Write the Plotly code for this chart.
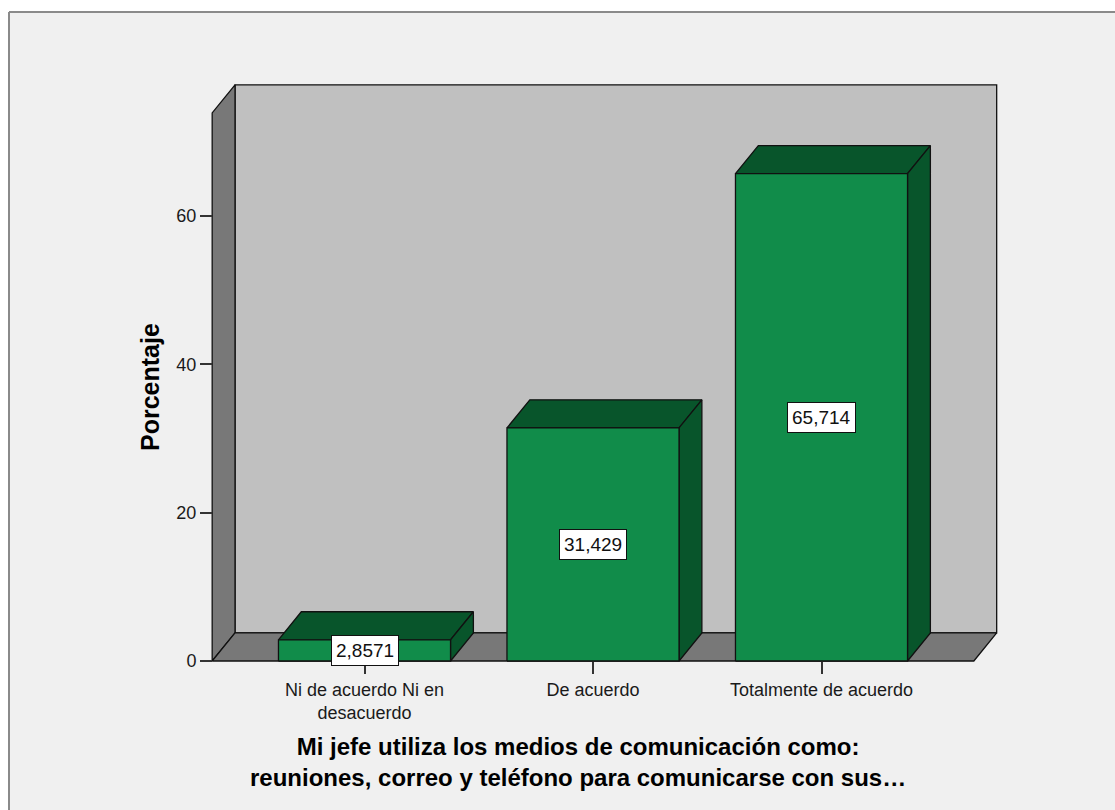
import plotly.graph_objects as go

# ---------------- data ----------------
categories = ["Ni de acuerdo Ni en<br>desacuerdo", "De acuerdo", "Totalmente de acuerdo"]
values = [2.8571, 31.429, 65.714]
value_labels = ["2,8571", "31,429", "65,714"]
y_ticks = [0, 20, 40, 60]
y_tick_labels = ["0", "20", "40", "60"]
y_title = "Porcentaje"
x_title_lines = ["Mi jefe utiliza los medios de comunicación como:",
                 "reuniones, correo y teléfono para comunicarse con sus…"]

# ---------------- style / geometry ----------------
W, H = 1115, 810
ML, MR, MT, MB = 190, 95, 70, 110
PW, PH = W - ML - MR, H - MT - MB
CAT_PX = 228.5          # px per category
CAT0_PX = 364.5         # px of first category centre
Y0_PX = 661             # px of value 0 (front)
PX_PER_UNIT = 7.417     # px per percent
BAR_W = 0.753
DX = 0.1                # depth offset in category units
DY = 3.78               # depth offset in percent units
FX0, FX1 = -2 / 3, 8 / 3
WALL_H = 73.9

FRONT = "#118c4a"
DARK = "#08552b"
BACK_WALL = "#c0c0c0"
SIDE_WALL = "#787878"
FRAME_BG = "#f0f0f0"
FONT = "Liberation Sans, Arial, sans-serif"

x_range = [(ML - CAT0_PX) / CAT_PX, (W - MR - CAT0_PX) / CAT_PX]
y_range = [(Y0_PX - (H - MB)) / PX_PER_UNIT, (Y0_PX - MT) / PX_PER_UNIT]


def px_to_paper_x(px):
    return (px - ML) / PW


def px_to_paper_y(py):
    return (H - MB - py) / PH


fig = go.Figure()


def poly(xs, ys, color):
    fig.add_trace(go.Scatter(
        x=list(xs) + [xs[0]], y=list(ys) + [ys[0]],
        mode="lines", fill="toself", fillcolor=color,
        line=dict(color="#111111", width=1.3),
        hoverinfo="skip", showlegend=False))


# walls and floor
poly([FX0 + DX, FX1 + DX, FX1 + DX, FX0 + DX], [DY, DY, WALL_H + DY, WALL_H + DY], BACK_WALL)
poly([FX0, FX0 + DX, FX0 + DX, FX0], [0, DY, WALL_H + DY, WALL_H], SIDE_WALL)
poly([FX0, FX1, FX1 + DX, FX0 + DX], [0, 0, DY, DY], SIDE_WALL)

# bars
for i, v in enumerate(values):
    x0, x1 = i - BAR_W / 2, i + BAR_W / 2
    poly([x0, x1, x1 + DX, x0 + DX], [v, v, v + DY, v + DY], DARK)
    poly([x1, x1 + DX, x1 + DX, x1], [0, DY, v + DY, v], DARK)
    poly([x0, x1, x1, x0], [0, 0, v, v], FRONT)

annotations = []
for i, (v, lab) in enumerate(zip(values, value_labels)):
    annotations.append(dict(
        x=i, y=v / 2, xref="x", yref="y", text=lab, showarrow=False,
        font=dict(family=FONT, size=19, color="#111111"),
        bgcolor="white", bordercolor="#111111", borderwidth=1, borderpad=4))

annotations.append(dict(
    x=px_to_paper_x(150), y=px_to_paper_y(387), xref="paper", yref="paper",
    text="<b>" + y_title + "</b>", textangle=-90, showarrow=False,
    font=dict(family=FONT, size=25, color="#000000"),
    xanchor="center", yanchor="middle"))

annotations.append(dict(
    x=px_to_paper_x(578), y=px_to_paper_y(762), xref="paper", yref="paper",
    text="<br>".join("<b>" + line + "</b>" for line in x_title_lines),
    showarrow=False, align="center",
    font=dict(family=FONT, size=24, color="#000000"),
    xanchor="center", yanchor="middle"))

frame_left, frame_top = px_to_paper_x(9), px_to_paper_y(12)
fig.update_layout(
    width=W, height=H,
    margin=dict(l=ML, r=MR, t=MT, b=MB, pad=0),
    paper_bgcolor="white", plot_bgcolor="rgba(0,0,0,0)",
    showlegend=False,
    annotations=annotations,
    shapes=[
        dict(type="rect", xref="paper", yref="paper",
             x0=frame_left, x1=px_to_paper_x(W),
             y0=px_to_paper_y(H), y1=frame_top,
             fillcolor=FRAME_BG, line=dict(width=0), layer="below"),
        dict(type="line", xref="paper", yref="paper",
             x0=frame_left, x1=px_to_paper_x(W), y0=frame_top, y1=frame_top,
             line=dict(color="#8a8a8a", width=2), layer="below"),
        dict(type="line", xref="paper", yref="paper",
             x0=frame_left, x1=frame_left, y0=frame_top, y1=px_to_paper_y(H),
             line=dict(color="#8a8a8a", width=2), layer="below"),
    ],
    xaxis=dict(range=x_range, tickmode="array", tickvals=list(range(len(categories))),
               ticktext=categories, showgrid=False, zeroline=False, showline=False,
               ticks="outside", ticklen=12, tickwidth=1.5, tickcolor="#333333",
               tickfont=dict(family=FONT, size=18, color="#1a1a1a"),
               anchor="free", position=px_to_paper_y(Y0_PX), fixedrange=True),
    yaxis=dict(range=y_range, tickmode="array", tickvals=y_ticks, ticktext=y_tick_labels,
               showgrid=False, zeroline=False, showline=False,
               ticks="outside", ticklen=12, tickwidth=1.5, tickcolor="#333333",
               tickfont=dict(family=FONT, size=18, color="#1a1a1a"),
               anchor="free", position=px_to_paper_x(212), fixedrange=True),
)

fig.write_html("out.html")
